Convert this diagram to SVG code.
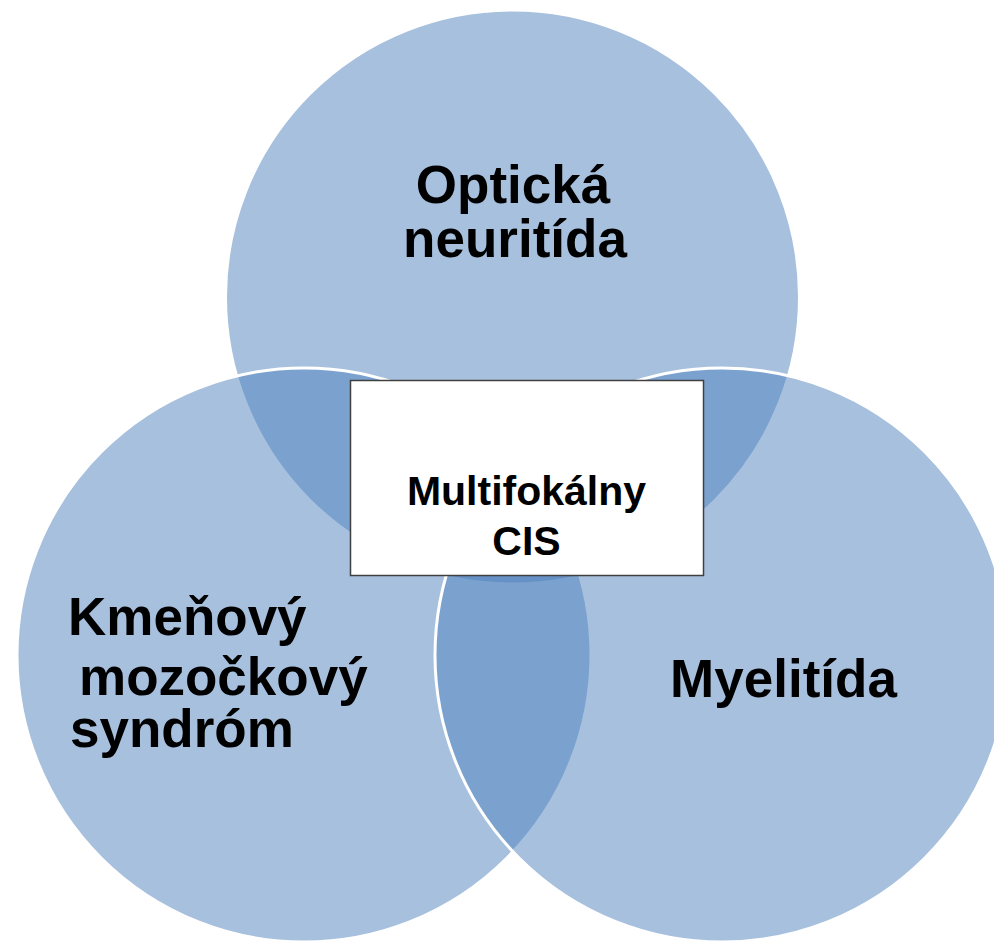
<svg xmlns="http://www.w3.org/2000/svg" width="994" height="944" viewBox="0 0 994 944">
<style>
.c{fill:#4f81bd;fill-opacity:0.5;stroke:#ffffff;stroke-width:3}
.t{font-family:"Liberation Sans",Arial,sans-serif;font-weight:bold;fill:#000000}
.big{font-size:53px}
.mid{font-size:41px}
</style>
<rect width="994" height="944" fill="#ffffff"/>
<g id="node-optic">
<circle class="c" cx="512.5" cy="297" r="287"/>
<text class="t big" x="513" y="203" text-anchor="middle">Optická</text>
<text class="t big" x="515" y="257" text-anchor="middle">neuritída</text>
</g>
<g id="node-brainstem">
<circle class="c" cx="304" cy="655" r="287"/>
<text class="t big" x="68" y="635">Kmeňový</text>
<text class="t big" x="79" y="695">mozočkový</text>
<text class="t big" x="70" y="747">syndróm</text>
</g>
<g id="node-myelitis">
<circle class="c" cx="722" cy="655" r="287"/>
<text class="t big" x="783.5" y="697" text-anchor="middle">Myelitída</text>
</g>
<g id="node-center">
<rect x="350.5" y="380.5" width="353" height="195" fill="#ffffff" stroke="#404040" stroke-width="1.5"/>
<text class="t mid" x="526.5" y="505" text-anchor="middle">Multifokálny</text>
<text class="t mid" x="526.5" y="555" text-anchor="middle">CIS</text>
</g>
<g id="connectors"></g>
</svg>
